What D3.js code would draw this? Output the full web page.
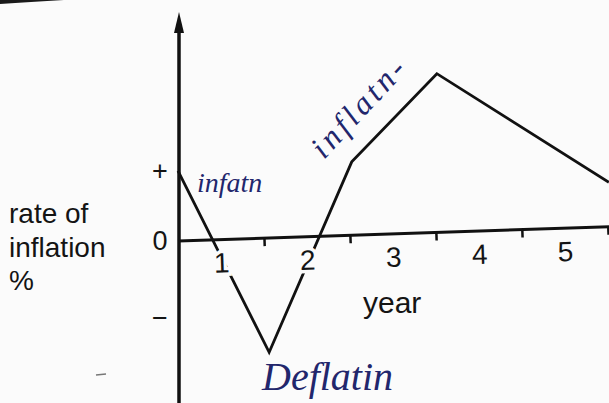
<!DOCTYPE html>
<html>
<head>
<meta charset="utf-8">
<script src="https://cdn.jsdelivr.net/npm/d3@7"></script>
<style>
  html, body { margin: 0; padding: 0; background: #fbfbfb; }
  svg { display: block; }
  text { font-family: "Liberation Sans", Arial, sans-serif; fill: #141414; }
  .hand { font-family: "Liberation Serif", serif; font-style: italic; fill: #22266c; }
</style>
</head>
<body>
<svg id="chart" width="609" height="403"></svg>
<script>
// Inflation path over the years (x in years, y in relative rate units)
const years = [0, 1.06, 2.02, 3.01, 5.01];
const rates = [1.0, -1.59, 1.13, 2.39, 0.84];

// Year labels sit in the middle of each year band
const yearLabels = ["1", "2", "3", "4", "5"];
const yearTicks = [1, 2, 3, 4, 5];

// Sign markers on the rate axis
const rateMarks = [1, 0, -1.1];
const rateMarkLabels = ["+", "0", "\u2212"];

const svg = d3.select("#chart");
const W = 609, H = 403;

const x = d3.scaleLinear().domain([0, 5]).range([178, 608]);
const y = d3.scaleLinear().domain([-2.314, 3.271]).range([H, 12]);

// page edge shadow, top-left
svg.append("path")
  .attr("d", "M0,0 L64,0 Q30,2 0,4 Z")
  .attr("fill", "#1a1a1a");

// the data line
const line = d3.line().x((d, i) => x(years[i])).y(d => y(d));
svg.append("path")
  .datum(rates)
  .attr("d", line)
  .attr("fill", "none")
  .attr("stroke", "#111")
  .attr("stroke-width", 2.8)
  .attr("stroke-linejoin", "miter");

// x axis, drawn on a slight slant
const xg = svg.append("g")
  .attr("transform", `rotate(-1.9, ${x(0)}, ${y(0)}) translate(0, ${y(0)})`);
const xAxis = d3.axisBottom(x).tickValues(yearTicks).tickSize(8).tickFormat("").tickSizeOuter(0);
xg.call(xAxis);
xg.select(".domain").attr("stroke", "#111").attr("stroke-width", 3)
  .attr("d", `M${x(0)},0H${W + 5}`);
xg.selectAll(".tick line").attr("stroke", "#111").attr("stroke-width", 2.5);
xg.selectAll(".yearLabel")
  .data(yearLabels)
  .join("text")
  .attr("class", "yearLabel")
  .attr("x", (d, i) => x(i + 0.5))
  .attr("y", 33)
  .attr("text-anchor", "middle")
  .attr("font-size", 28)
  .attr("stroke", "#fbfbfb")
  .attr("stroke-width", 7)
  .attr("paint-order", "stroke")
  .text(d => d);

// y axis with arrow
const yg = svg.append("g");
yg.append("line")
  .attr("x1", x(0) + 1).attr("x2", x(0) + 1)
  .attr("y1", y.range()[0]).attr("y2", y.range()[1] + 14)
  .attr("stroke", "#111").attr("stroke-width", 3.5);
yg.append("path")
  .attr("d", `M${x(0) + 1},${y.range()[1]} L${x(0) + 6},${y.range()[1] + 21} L${x(0) - 4},${y.range()[1] + 21} Z`)
  .attr("fill", "#111");

yg.selectAll(".rateMark")
  .data(rateMarks)
  .join("text")
  .attr("class", "rateMark")
  .attr("x", 160)
  .attr("y", d => y(d))
  .attr("dy", "0.35em")
  .attr("text-anchor", "middle")
  .attr("font-size", 27)
  .text((d, i) => rateMarkLabels[i]);

// axis titles
const yTitle = svg.append("text").attr("font-size", 28);
["rate of", "inflation", "%"].forEach((t, i) => {
  yTitle.append("tspan").attr("x", 9).attr("y", 223 + i * 33.5).text(t);
});
svg.append("text")
  .attr("x", 363).attr("y", 313)
  .attr("font-size", 30)
  .text("year");

// handwritten notes
svg.append("text").attr("class", "hand")
  .attr("x", 197).attr("y", 192)
  .attr("font-size", 28)
  .text("infatn");
svg.append("text").attr("class", "hand")
  .attr("transform", "translate(324,160) rotate(-47)")
  .attr("font-size", 32)
  .attr("letter-spacing", 4)
  .text("inflatn-");
svg.append("text").attr("class", "hand")
  .attr("x", 262).attr("y", 390)
  .attr("font-size", 40)
  .text("Deflatin");

// small stray mark
svg.append("line")
  .attr("x1", 96).attr("x2", 106).attr("y1", 375).attr("y2", 374)
  .attr("stroke", "#777").attr("stroke-width", 1.5);
</script>
</body>
</html>
